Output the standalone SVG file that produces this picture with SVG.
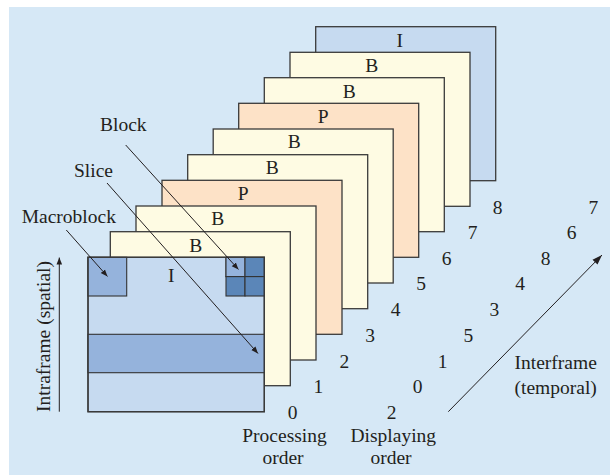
<svg xmlns="http://www.w3.org/2000/svg" width="610" height="475" viewBox="0 0 610 475">
<defs>
<style>
.fr{stroke:#3a3a3a;stroke-width:1.3}
.fi{fill:#c6daf0}
.fb{fill:#fefbe3}
.fp{fill:#fde2c7}
.mid{fill:#95b3dc;stroke:#333;stroke-width:1.1}
.dk{fill:#5b86b8;stroke:#333;stroke-width:1.1}
text{font-family:"Liberation Serif","Times New Roman",serif;font-size:19.5px;fill:#231f20}
.c{text-anchor:middle}
.ln{stroke:#231f20;stroke-width:1;fill:none}
</style>
<marker id="ah" viewBox="0 0 10 10" refX="10" refY="5" markerWidth="7" markerHeight="7" markerUnits="userSpaceOnUse" orient="auto">
<path d="M0,1 L10,5 L0,9 Z" fill="#231f20"/>
</marker>
<marker id="ah2" viewBox="0 0 10 10" refX="10" refY="5" markerWidth="10" markerHeight="10" markerUnits="userSpaceOnUse" orient="auto">
<path d="M0,1.5 L10,5 L0,8.5 Z" fill="#231f20"/>
</marker>
</defs>
<rect x="9" y="7" width="601" height="468" fill="#d6e8f6"/>

<g id="frame-9-I"><rect class="fr fi" x="315.7" y="26.7" width="180" height="154"/><text class="c" x="399.7" y="46.7">I</text></g>
<g id="frame-8-B"><rect class="fr fb" x="290" y="52.3" width="180" height="154"/><text class="c" x="371.7" y="71.7">B</text></g>
<g id="frame-7-B"><rect class="fr fb" x="264.3" y="77.7" width="180" height="154"/><text class="c" x="349.3" y="98">B</text></g>
<g id="frame-6-P"><rect class="fr fp" x="238.7" y="103.3" width="180" height="154"/><text class="c" x="323.3" y="123.3">P</text></g>
<g id="frame-5-B"><rect class="fr fb" x="213.2" y="129" width="180" height="154"/><text class="c" x="294.3" y="148.3">B</text></g>
<g id="frame-4-B"><rect class="fr fb" x="187.7" y="154.7" width="180" height="154"/><text class="c" x="272.3" y="174.3">B</text></g>
<g id="frame-3-P"><rect class="fr fp" x="162" y="180.3" width="180" height="154"/><text class="c" x="243.3" y="200">P</text></g>
<g id="frame-2-B"><rect class="fr fb" x="136" y="206" width="180" height="154"/><text class="c" x="217.7" y="225">B</text></g>
<g id="frame-1-B"><rect class="fr fb" x="110.3" y="231.7" width="180" height="154"/><text class="c" x="195.8" y="251.7">B</text></g>
<g id="frame-0-I">
<rect class="fr fi" x="88" y="257.3" width="176.3" height="154.4"/>
<rect class="mid" x="88" y="257.3" width="38.7" height="38.7"/>
<rect class="mid" x="88" y="334.3" width="176.3" height="38.4"/>
<rect class="dk" x="226" y="257.3" width="19" height="19.3"/>
<rect class="mid" x="226" y="257.3" width="19" height="19.3"/>
<rect class="dk" x="245" y="257.3" width="19.3" height="19.3"/>
<rect class="dk" x="226" y="276.6" width="19" height="19.4"/>
<rect class="dk" x="245" y="276.6" width="19.3" height="19.4"/>
<rect class="fr" fill="none" x="88" y="257.3" width="176.3" height="154.4"/>
<text class="c" x="171.3" y="282">I</text>
</g>

<g id="labels">
<text x="21.7" y="223">Macroblock</text>
<text x="74" y="176.7">Slice</text>
<text x="100" y="130.7">Block</text>
<text class="c" transform="translate(50,336.5) rotate(-90)">Intraframe (spatial)</text>
<text class="c" x="284.5" y="441.7">Processing</text>
<text class="c" x="283" y="464">order</text>
<text class="c" x="393.3" y="441.7">Displaying</text>
<text class="c" x="391" y="464">order</text>
<text class="c" x="555.7" y="369.3">Interframe</text>
<text class="c" x="555.7" y="393.5">(temporal)</text>
</g>

<g id="processing-order">
<text class="c" x="292.5" y="418.5">0</text>
<text class="c" x="318.3" y="393">1</text>
<text class="c" x="344.3" y="367.5">2</text>
<text class="c" x="370" y="341.8">3</text>
<text class="c" x="395.5" y="316">4</text>
<text class="c" x="421" y="290.3">5</text>
<text class="c" x="446.7" y="264.7">6</text>
<text class="c" x="472.5" y="239">7</text>
<text class="c" x="497.7" y="213.5">8</text>
</g>
<g id="displaying-order">
<text class="c" x="391.7" y="418.5">2</text>
<text class="c" x="417.7" y="393">0</text>
<text class="c" x="442.7" y="367.5">1</text>
<text class="c" x="468.3" y="341.8">5</text>
<text class="c" x="494.3" y="316">3</text>
<text class="c" x="520" y="290.3">4</text>
<text class="c" x="545.7" y="264.7">8</text>
<text class="c" x="571.7" y="239">6</text>
<text class="c" x="593.3" y="213.5">7</text>
</g>

<g id="connectors">
<line class="ln" x1="66.3" y1="230" x2="107.5" y2="276.5" marker-end="url(#ah)"/>
<line class="ln" x1="107" y1="183" x2="258" y2="353.5" marker-end="url(#ah)"/>
<line class="ln" x1="125.7" y1="145" x2="238.5" y2="269.5" marker-end="url(#ah)"/>
<line class="ln" x1="59.3" y1="411.7" x2="59.3" y2="257.5" marker-end="url(#ah)"/>
<line class="ln" x1="448.3" y1="411.7" x2="602" y2="255" marker-end="url(#ah2)"/>
</g>
</svg>
